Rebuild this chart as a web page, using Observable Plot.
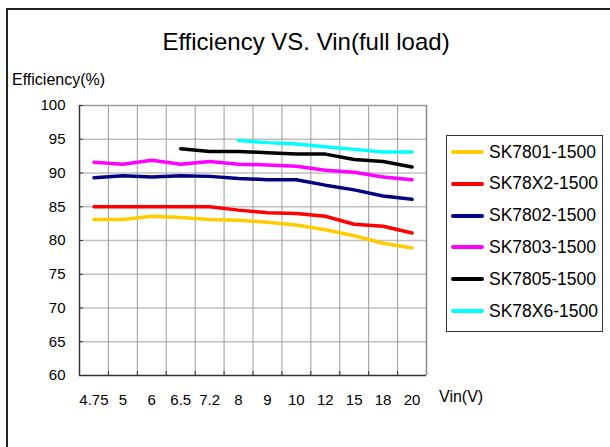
<!DOCTYPE html>
<html>
<head>
<meta charset="utf-8">
<script src="https://cdn.jsdelivr.net/npm/d3@7"></script>
<script src="https://cdn.jsdelivr.net/npm/@observablehq/plot@0.6"></script>
<style>
  html, body { margin: 0; padding: 0; background: #fff; }
  #wrap { position: relative; width: 610px; height: 447px; overflow: hidden; font-family: "Liberation Sans", Arial, sans-serif; color: #000; }
  #frame { position: absolute; left: 6px; top: 8px; width: 700px; height: 600px; border: 2px solid #222; box-sizing: border-box; }
  #title { position: absolute; left: 0; width: 612px; top: 28px; text-align: center; font-size: 24px; line-height: 28px; }
  #ylabel { position: absolute; left: 12px; top: 71px; font-size: 16px; line-height: 18px; }
  #xlabel { position: absolute; left: 439px; top: 388px; font-size: 16px; line-height: 18px; }
  #chart { position: absolute; left: 0; top: 0; }
  #legend { position: absolute; left: 446px; top: 135px; width: 157px; height: 197px; border: 1px solid #333; box-sizing: border-box; background: #fff; }
  .item { position: absolute; left: 4px; height: 20px; display: flex; align-items: center; font-size: 17.5px; white-space: nowrap; }
  .sw { width: 33px; height: 4px; margin-right: 5px; border-radius: 2px; }
</style>
</head>
<body>
<div id="wrap">
  <div id="frame"></div>
  <div id="chart"></div>
  <div id="title">Efficiency VS. Vin(full load)</div>
  <div id="ylabel">Efficiency(%)</div>
  <div id="xlabel">Vin(V)</div>
  <div id="legend"></div>
</div>
<script>
const xLabels = ["4.75", "5", "6", "6.5", "7.2", "8", "9", "10", "12", "15", "18", "20"];
const yTicks = [60, 65, 70, 75, 80, 85, 90, 95, 100];
const seriesNames = ["SK7801-1500", "SK78X2-1500", "SK7802-1500", "SK7803-1500", "SK7805-1500", "SK78X6-1500"];
const seriesColors = ["#FFCC00", "#FF0000", "#000080", "#FF00FF", "#000000", "#00FFFF"];

const sk7801 = [83.1, 83.1, 83.6, 83.4, 83.1, 83.0, 82.7, 82.3, 81.6, 80.7, 79.6, 78.9];
const sk78x2 = [85.0, 85.0, 85.0, 85.0, 85.0, 84.5, 84.1, 84.0, 83.6, 82.4, 82.1, 81.1];
const sk7802 = [89.3, 89.6, 89.4, 89.6, 89.5, 89.2, 89.0, 89.0, 88.2, 87.5, 86.6, 86.1];
const sk7803 = [91.6, 91.3, 91.9, 91.3, 91.7, 91.3, 91.2, 91.0, 90.4, 90.1, 89.4, 89.0];
const sk7805 = [null, null, null, 93.6, 93.2, 93.2, 93.0, 92.8, 92.8, 92.0, 91.7, 90.9];
const sk78x6 = [null, null, null, null, null, 94.8, 94.5, 94.3, 93.9, 93.5, 93.1, 93.1];

const seriesValues = [sk7801, sk78x2, sk7802, sk7803, sk7805, sk78x6];

const rows = [];
seriesValues.forEach((vals, s) => {
  vals.forEach((v, i) => { if (v != null) rows.push({series: seriesNames[s], i, v}); });
});

const idx = d3.range(xLabels.length);
const bounds = d3.range(xLabels.length - 1).map(i => i + 0.5);
const n = xLabels.length;

const chart = Plot.plot({
  width: 610,
  height: 447,
  marginLeft: 79,
  marginRight: 184,
  marginTop: 105,
  marginBottom: 72,
  style: {fontFamily: "'Liberation Sans', Arial, sans-serif", fontSize: "15px", background: "transparent", color: "#000"},
  x: {domain: [-0.5, n - 0.5], axis: null},
  y: {domain: [60, 100], axis: null},
  color: {domain: seriesNames, range: seriesColors},
  marks: [
    Plot.ruleY(yTicks.slice(1, -1), {stroke: "#c0c0c0", strokeWidth: 1.5, strokeOpacity: 1}),
    Plot.ruleX(bounds, {stroke: "#999", strokeWidth: 1, strokeOpacity: 1}),
    Plot.ruleY([100], {stroke: "#999", strokeWidth: 1.5, strokeOpacity: 1}),
    Plot.ruleX([n - 0.5], {stroke: "#888", strokeWidth: 1.5, strokeOpacity: 1}),
    Plot.axisY(yTicks, {anchor: "left", label: null, tickSize: -4, tickPadding: 18, stroke: "#333", strokeOpacity: 1, fontSize: 15}),
    Plot.axisX(idx, {anchor: "bottom", label: null, tickSize: 0, tickPadding: 19, tickFormat: i => xLabels[i], fontSize: 15}),
    Plot.axisX(bounds, {anchor: "bottom", label: null, tickSize: -4, tickFormat: () => "", stroke: "#333", strokeOpacity: 1}),
    Plot.ruleX([-0.5], {stroke: "#333", strokeWidth: 1.5}),
    Plot.ruleY([60], {stroke: "#333", strokeWidth: 1.5}),
    Plot.line(rows, {x: "i", y: "v", z: "series", stroke: "series", strokeWidth: 3.5, strokeLinecap: "round", strokeLinejoin: "round"})
  ]
});
document.getElementById("chart").appendChild(chart);

const legend = document.getElementById("legend");
seriesNames.forEach((name, k) => {
  const it = document.createElement("div");
  it.className = "item";
  it.style.top = (6 + k * 31.8) + "px";
  const sw = document.createElement("span");
  sw.className = "sw";
  sw.style.background = seriesColors[k];
  const tx = document.createElement("span");
  tx.textContent = name;
  it.appendChild(sw);
  it.appendChild(tx);
  legend.appendChild(it);
});
</script>
</body>
</html>
